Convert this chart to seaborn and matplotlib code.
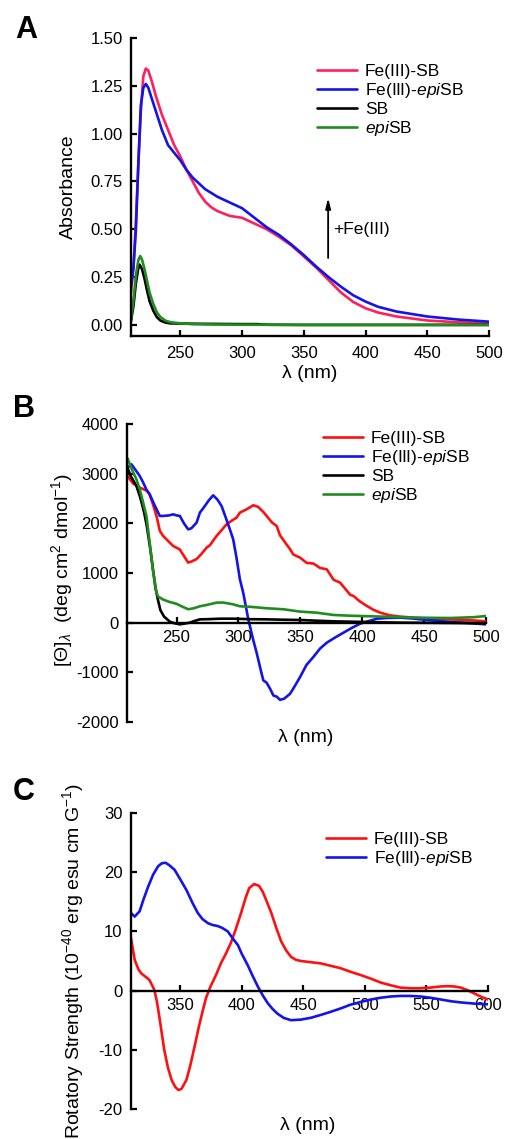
import matplotlib
matplotlib.use("Agg")
import matplotlib.pyplot as plt
import seaborn as sns
import numpy as np
from matplotlib.ticker import FormatStrFormatter

# ---- panel A: absorbance ----
a_red_x = [210, 212, 214, 216, 218, 220, 222, 224, 227, 230, 235, 240, 245, 250, 255, 260, 265,
           270, 275, 280, 290, 300, 310, 320, 330, 340, 350, 360, 370, 380, 390, 400, 410, 425,
           450, 475, 500]
a_red_y = [0.17, 0.30, 0.55, 0.85, 1.12, 1.30, 1.34, 1.33, 1.27, 1.20, 1.10, 1.02, 0.94, 0.88,
           0.81, 0.75, 0.69, 0.645, 0.615, 0.595, 0.57, 0.56, 0.53, 0.50, 0.46, 0.415, 0.358,
           0.30, 0.235, 0.17, 0.12, 0.087, 0.065, 0.044, 0.023, 0.014, 0.009]
a_blue_x = [210, 212, 214, 216, 218, 220, 222, 224, 227, 230, 235, 240, 245, 250, 255, 260, 270,
            280, 290, 300, 310, 320, 330, 340, 350, 360, 370, 380, 390, 400, 410, 425, 450, 475,
            500]
a_blue_y = [0.20, 0.30, 0.50, 0.85, 1.15, 1.24, 1.26, 1.24, 1.18, 1.12, 1.02, 0.94, 0.90, 0.86,
            0.81, 0.77, 0.71, 0.67, 0.64, 0.61, 0.56, 0.51, 0.47, 0.42, 0.365, 0.305, 0.25, 0.20,
            0.155, 0.122, 0.095, 0.07, 0.044, 0.028, 0.017]
a_sb_x = [210, 212, 214, 216, 217, 219, 221, 223, 225, 228, 231, 234, 238, 242, 250, 260, 280,
          300, 312, 320, 350, 400, 450, 500]
a_sb_y = [0.02, 0.10, 0.22, 0.30, 0.315, 0.29, 0.24, 0.18, 0.125, 0.075, 0.04, 0.022, 0.012,
          0.008, 0.007, 0.006, 0.005, 0.004, 0.004, 0.001, 0.0, 0.0, 0.0, 0.0]
a_epi_x = [210, 212, 214, 216, 217.5, 219, 221, 223, 225, 228, 231, 234, 238, 242, 250, 260, 280,
           300, 350, 400, 450, 500]
a_epi_y = [0.03, 0.13, 0.26, 0.34, 0.36, 0.34, 0.29, 0.23, 0.17, 0.11, 0.065, 0.04, 0.022, 0.014,
           0.008, 0.004, 0.002, 0.001, 0.0, 0.0, 0.0, 0.0]

# ---- panel B: molar ellipticity ----
b_red_x = [210.4, 215, 220.3, 225.7, 228, 231, 233.8, 236.5, 239.2, 244.6, 247.3, 252.7, 254,
           259.4, 262, 266.2, 270, 274.3, 277, 282.3, 286, 290.4, 295, 298.5, 301.2, 306.6, 312,
           316, 320.1, 322.8, 327, 330.9, 333.6, 337, 341.7, 344.4, 349.8, 355.2, 360.6, 366,
           371.4, 376.8, 382.2, 390.3, 393, 398, 403.8, 409, 414.6, 422, 430.8, 445, 457.8,
           471, 484.8, 500]
b_red_y = [2950, 2800, 2720, 2660, 2600, 2380, 2150, 1850, 1745, 1610, 1544, 1473, 1420, 1210,
           1230, 1280, 1380, 1510, 1560, 1745, 1850, 1980, 2060, 2114, 2216, 2282, 2364, 2330,
           2230, 2149, 2020, 1946, 1760, 1640, 1480, 1372, 1309, 1203, 1190, 1101, 1074, 865,
           805, 561, 537, 430, 336, 260, 201, 150, 121, 95, 80, 65, 54, 27]
b_blue_x = [210.4, 213.6, 217, 220.3, 223, 225.7, 228.4, 232, 236.5, 240, 244, 247.3, 250, 252.7,
            256, 259.4, 262, 266.2, 268.9, 272.9, 276, 279.6, 283, 286.4, 290, 293.1, 295.8,
            298.5, 301.2, 303.9, 308, 312, 314.7, 318, 320.1, 322.8, 326, 328.2, 331, 333.6,
            337, 341.7, 345, 349.8, 355, 360.6, 366, 371.4, 378, 384.9, 392, 398.4, 405, 411.9,
            420, 430.8, 440, 447, 460, 471.3, 485, 500]
b_blue_y = [3120, 3188, 3070, 2953, 2824, 2680, 2580, 2380, 2148, 2150, 2160, 2181, 2160, 2148,
            2000, 1879, 1900, 2013, 2216, 2349, 2460, 2564, 2480, 2349, 2100, 1879, 1676, 1300,
            872, 600, 67, -351, -604, -950, -1162, -1208, -1350, -1466, -1490, -1554, -1530,
            -1432, -1300, -1095, -850, -689, -520, -403, -300, -201, -100, -20, 30, 80, 95, 100,
            85, 67, 40, 13, -5, -34]
b_sb_x = [210.4, 213, 217.6, 220.3, 222, 224, 226, 229, 231, 233, 235, 237, 240, 244.6, 248,
          252.7, 256, 260.8, 264, 268.9, 275, 285, 295.8, 310, 322.8, 335, 349.8, 363, 376.8,
          400, 430.8, 465, 500]
b_sb_y = [3120, 2950, 2752, 2554, 2400, 2200, 1946, 1450, 1068, 700, 459, 250, 120, 20, -10,
          -34, -20, 0, 30, 67, 70, 80, 80, 70, 67, 60, 54, 40, 27, 15, 0, -5, -13]
b_epi_x = [210.4, 214, 217.6, 220.3, 223, 225.7, 228.4, 230.7, 233.8, 235.1, 239.2, 244,
           250, 254, 259.4, 264, 268.9, 275, 282.3, 287.7, 295.8, 301.2, 309.3, 322.8, 336.3,
           349.8, 363.3, 376.8, 390.3, 417.3, 444.3, 471.3, 490, 500]
b_epi_y = [3310, 3080, 2886, 2689, 2420, 2149, 1600, 1100, 604, 527, 465, 420, 380, 330, 270,
           290, 330, 360, 403, 405, 369, 330, 320, 290, 270, 223, 201, 155, 140, 121, 100, 94,
           110, 134]

# ---- panel C: rotatory strength ----
c_red_x = [310, 313, 316, 318.4, 322, 325, 329, 331, 333, 335, 337, 340, 343, 346, 348.6, 351,
           355, 358, 361.6, 365, 368.4, 371, 374.6, 379, 383, 387, 391, 395, 399.4, 403, 406,
           410, 414, 417, 420, 424, 428, 432, 436, 440, 444, 448, 456, 464, 472, 480, 488, 497,
           505, 513, 521, 529, 537, 545, 553, 561.6, 567, 572.4, 578, 583, 587, 591, 595, 600]
c_red_y = [8.85, 5.2, 3.6, 2.9, 2.3, 1.8, 0.1, -1.8, -4.4, -7.2, -10, -13.0, -15.1, -16.3,
           -16.8, -16.6, -15.1, -12.8, -9.5, -6.2, -3.3, -1.2, 0.7, 2.6, 4.6, 6.2, 8.0, 10.3,
           13.1, 15.6, 17.3, 18.0, 17.7, 16.7, 15.2, 13.1, 10.6, 8.3, 6.8, 5.7, 5.2, 5.0, 4.8,
           4.6, 4.2, 3.8, 3.2, 2.6, 2.0, 1.35, 0.9, 0.5, 0.4, 0.4, 0.5, 0.7, 0.75, 0.7, 0.5, 0.1,
           -0.3, -0.7, -1.1, -1.5]
c_blue_x = [310, 313, 317, 320, 324, 328, 332, 335, 338, 341, 345.4, 350, 355, 360, 364.3, 368,
            372.4, 376, 380.5, 384, 388.6, 392, 396.8, 400, 404.8, 409, 413, 417, 421, 425,
            429, 434, 440, 448, 456, 464.3, 472, 480.5, 488, 497, 505, 513, 521, 529, 537,
            545.4, 553, 561.6, 570, 578, 589, 600]
c_blue_y = [13.1, 12.5, 13.4, 15.3, 17.6, 19.6, 21.0, 21.5, 21.6, 21.2, 20.4, 18.8, 17.0, 14.8,
            13.1, 12.1, 11.4, 11.1, 10.9, 10.6, 10.0, 9.0, 7.7, 6.2, 4.3, 2.4, 0.7, -0.8, -2.1,
            -3.1, -3.9, -4.6, -5.0, -4.9, -4.6, -4.1, -3.6, -3.0, -2.4, -1.9, -1.5, -1.2, -1.0,
            -0.9, -0.9, -1.0, -1.2, -1.5, -1.8, -2.0, -2.2, -2.3]

a_ticks = [0.0, 0.25, 0.5, 0.75, 1.0, 1.25, 1.5]
b_ticks = [-2000, -1000, 0, 1000, 2000, 3000, 4000]
c_ticks = [-20, -10, 0, 10, 20, 30]

PINK = "#ff1f5b"
RED = "#ff1010"
BLUE = "#1414e6"
GREEN = "#208c20"
BLACK = "#000000"

sns.set_style("ticks")
plt.rcParams["font.family"] = ["Liberation Sans", "DejaVu Sans"]
plt.rcParams["mathtext.fontset"] = "custom"
plt.rcParams["mathtext.rm"] = "Liberation Sans"
plt.rcParams["mathtext.it"] = "Liberation Sans:italic"
plt.rcParams["axes.unicode_minus"] = False
plt.rcParams["axes.linewidth"] = 1.7
plt.rcParams["axes.edgecolor"] = "black"
plt.rcParams["text.color"] = "black"
plt.rcParams["axes.labelcolor"] = "black"
plt.rcParams["xtick.color"] = "black"
plt.rcParams["ytick.color"] = "black"

W, H = 506, 1139
fig = plt.figure(figsize=(W / 100, H / 100), dpi=100)


def box(l, t, r, b):
    return [l / W, 1 - b / H, (r - l) / W, (b - t) / H]


axA = fig.add_axes(box(131, 38, 489, 336))
axB = fig.add_axes(box(127, 424, 486, 722))
axC = fig.add_axes(box(131, 813, 488, 1109))

LW = 1.9
epi = "Fe(III)-$\\it{epi}$SB"
epi2 = "$\\it{epi}$SB"

sns.lineplot(x=a_red_x, y=a_red_y, color=PINK, lw=LW, label="Fe(III)-SB", ax=axA)
sns.lineplot(x=a_blue_x, y=a_blue_y, color=BLUE, lw=LW, label=epi, ax=axA)
sns.lineplot(x=a_sb_x, y=a_sb_y, color=BLACK, lw=LW, label="SB", ax=axA)
sns.lineplot(x=a_epi_x, y=a_epi_y, color=GREEN, lw=LW, label=epi2, ax=axA)

sns.lineplot(x=b_red_x, y=b_red_y, color=RED, lw=LW, label="Fe(III)-SB", ax=axB)
sns.lineplot(x=b_blue_x, y=b_blue_y, color=BLUE, lw=LW, label=epi, ax=axB)
sns.lineplot(x=b_sb_x, y=b_sb_y, color=BLACK, lw=LW, label="SB", ax=axB)
sns.lineplot(x=b_epi_x, y=b_epi_y, color=GREEN, lw=LW, label=epi2, ax=axB)

sns.lineplot(x=c_red_x, y=c_red_y, color=RED, lw=LW, label="Fe(III)-SB", ax=axC)
sns.lineplot(x=c_blue_x, y=c_blue_y, color=BLUE, lw=LW, label=epi, ax=axC)

for ax in (axA, axB, axC):
    sns.despine(ax=ax)
    ax.set_xlabel("")
    ax.set_ylabel("")
    ax.tick_params(direction="in", length=4, width=1.6, labelsize=12, pad=6, colors="black")
    ax.tick_params(axis="x", pad=5)

axA.set_xlim(210, 500)
axA.set_ylim(-0.058, 1.5)
axA.set_yticks(a_ticks)
axA.yaxis.set_major_formatter(FormatStrFormatter("%.2f"))
axA.set_xticks([250, 300, 350, 400, 450, 500])
axA.tick_params(axis="x", pad=7)

axB.set_xlim(210, 500)
axB.set_ylim(-2000, 4000)
axB.set_yticks(b_ticks)
axB.set_xticks([250, 300, 350, 400, 450, 500])
axB.spines["bottom"].set_position(("data", 0))

axC.set_xlim(310, 600)
axC.set_ylim(-20, 30)
axC.set_yticks(c_ticks)
axC.set_xticks([350, 400, 450, 500, 550, 600])
axC.spines["bottom"].set_position(("data", 0))

leg_kw = dict(frameon=False, fontsize=12.5, handlelength=2.3, handletextpad=0.45,
              labelspacing=0.12, borderaxespad=0, borderpad=0, loc="upper left")
axA.legend(bbox_to_anchor=(0.52, 0.913), **leg_kw)
axB.legend(bbox_to_anchor=(0.546, 0.977), **leg_kw)
axC.legend(bbox_to_anchor=(0.546, 0.936), **leg_kw)

axA.annotate("", xy=(369.7, 0.664), xytext=(369.7, 0.35),
             arrowprops=dict(arrowstyle="-|>,head_length=0.6,head_width=0.15",
                             color="black", lw=1.3, shrinkA=0, shrinkB=0))
axA.text(373.8, 0.497, "+Fe(III)", fontsize=12.5, va="center", ha="left")


def ftext(x, y, s, **kw):
    fig.text(x / W, 1 - y / H, s, ha="center", va="center", **kw)


ftext(68, 187, "Absorbance", fontsize=14, rotation=90)
ftext(62, 570, "$[\\Theta]_{\\lambda}$  (deg cm$^{2}$ dmol$^{-1}$)", fontsize=14, rotation=90)
ftext(73, 961, "Rotatory Strength (10$^{-40}$ erg esu cm G$^{-1}$)", fontsize=14, rotation=90)

ftext(310, 373, "λ (nm)", fontsize=14)
ftext(306, 738, "λ (nm)", fontsize=14)
ftext(308, 1125, "λ (nm)", fontsize=14)

ftext(26, 30, "A", fontsize=22, fontweight="bold")
ftext(24, 409, "B", fontsize=22, fontweight="bold")
ftext(24, 792, "C", fontsize=22, fontweight="bold")

fig.savefig("out.png", dpi=100)
